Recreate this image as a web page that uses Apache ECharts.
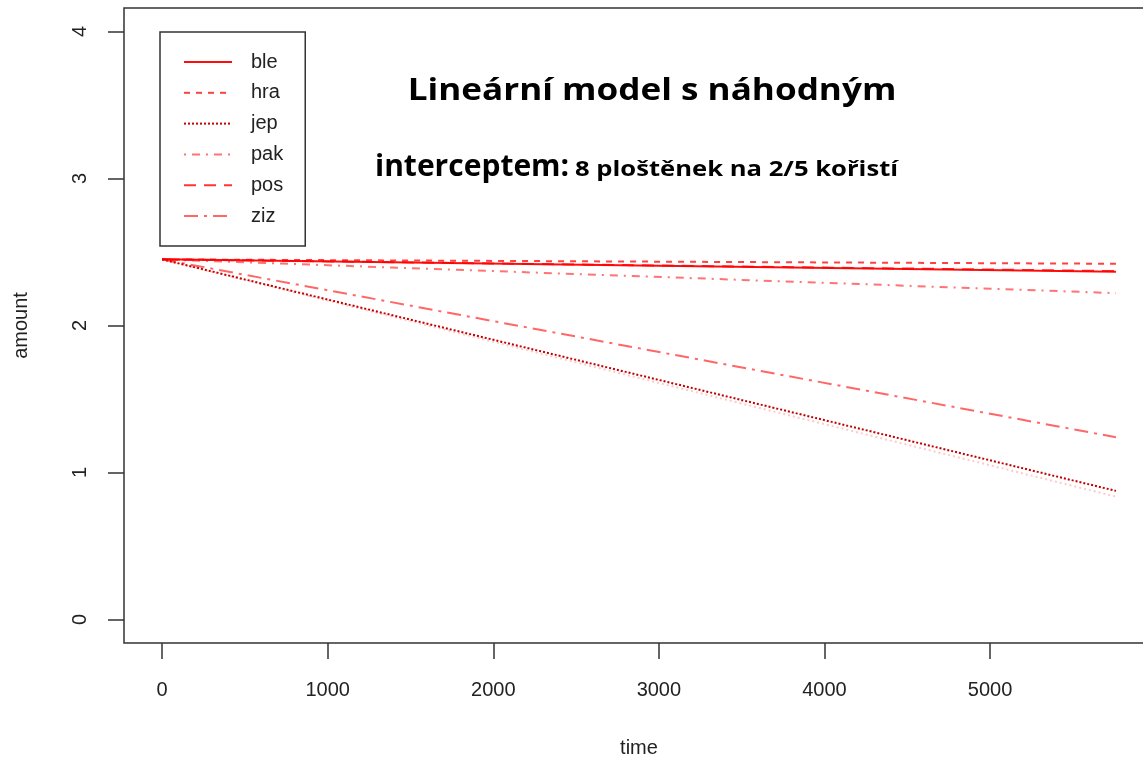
<!DOCTYPE html>
<html>
<head>
<meta charset="utf-8">
<script src="https://cdn.jsdelivr.net/npm/echarts@6/dist/echarts.min.js"></script>
<style>
  html, body { margin: 0; padding: 0; background: #fff; }
  #chart { width: 1143px; height: 762px; }
</style>
</head>
<body>
<div id="chart"></div>
<script>
// data: every line starts at time 0 with the same intercept
var groups = ["ble", "hra", "jep", "pak", "pos", "ziz"];
var timeStart = 0;
var timeEnd = 5760;
var intercept = 2.45;
var endValues = [2.365, 2.42, 0.875, 2.22, 2.37, 1.24];
// faint extra line (no legend entry)
var extraEnd = 0.836;
var xTicks = [0, 1000, 2000, 3000, 4000, 5000];
var yTicks = [0, 1, 2, 3, 4];

var styles = {
    ble: { color: "rgba(255,0,0,0.95)", type: "solid" },
    hra: { color: "rgba(255,0,0,0.75)", type: [6, 6] },
    jep: { color: "#c00000", type: [2, 2] },
    pak: { color: "rgba(255,0,0,0.55)", type: [2, 6, 8, 6] },
    pos: { color: "rgba(255,0,0,0.8)", type: [12, 8] },
    ziz: { color: "rgba(255,0,0,0.6)", type: [14, 6, 3, 6] }
};

var chart = echarts.init(document.getElementById("chart"));

var series = groups.map(function(g, i) {
    return {
        name: g,
        type: "line",
        symbol: "none",
        silent: true,
        animation: false,
        lineStyle: { width: 2, color: styles[g].color, type: styles[g].type },
        itemStyle: { color: styles[g].color },
        data: [[timeStart, intercept], [timeEnd, endValues[i]]]
    };
});
series.push({
    name: "extra",
    type: "line",
    symbol: "none",
    silent: true,
    animation: false,
    lineStyle: { width: 2, color: "rgba(255,0,0,0.22)", type: [2, 3] },
    data: [[timeStart, intercept], [timeEnd, extraEnd]]
});

var txt = "#222";
var options = {
    backgroundColor: "#fff",
    animation: false,
    grid: {
        left: 124, top: 8, width: 1030, height: 635,
        outerBoundsMode: "none", containLabel: false,
        show: true, borderColor: "#333", borderWidth: 1.5, backgroundColor: "transparent"
    },
    legend: {
        data: groups,
        orient: "vertical",
        left: 160, top: 32,
        padding: [20, 22, 20, 23],
        itemWidth: 48, itemHeight: 20, itemGap: 10.8,
        borderColor: "#333", borderWidth: 1.5,
        itemStyle: { opacity: 0 },
        textStyle: { fontFamily: "Liberation Sans", fontSize: 20, color: txt, padding: [0, 0, 0, 14] }
    },
    xAxis: {
        type: "value",
        min: -230, max: 5990,
        name: "time", nameLocation: "middle", nameGap: 95,
        nameTextStyle: { fontFamily: "Liberation Sans", fontSize: 20, color: txt },
        axisLine: { show: false, onZero: false },
        axisTick: { show: true, length: 16, customValues: xTicks, lineStyle: { color: "#333", width: 1.5 } },
        axisLabel: {
            customValues: xTicks, margin: 37, fontFamily: "Liberation Sans", fontSize: 20, color: txt,
            formatter: function(v) { return String(v); }
        },
        splitLine: { show: false }
    },
    yAxis: {
        type: "value",
        min: -0.16, max: 4.16,
        name: "amount", nameLocation: "middle", nameGap: 93,
        nameTextStyle: { fontFamily: "Liberation Sans", fontSize: 20, color: txt },
        axisLine: { show: false, onZero: false },
        axisTick: { show: true, length: 16, customValues: yTicks, lineStyle: { color: "#333", width: 1.5 } },
        axisLabel: { customValues: yTicks, rotate: 90, margin: 34, fontFamily: "Liberation Sans", fontSize: 20, color: txt },
        splitLine: { show: false }
    },
    graphic: [
        {
            type: "text", x: 652, y: 91, scaleX: 1.17,
            style: {
                text: "Lineární model s náhodným",
                font: "bold 30px 'Open Sans'",
                fill: "#000", textAlign: "center", textVerticalAlign: "middle"
            }
        },
        {
            type: "text", x: 375, y: 182,
            style: {
                text: "interceptem:",
                font: "bold 30px 'Open Sans'",
                fill: "#000", textAlign: "left", textVerticalAlign: "bottom"
            }
        },
        {
            type: "text", x: 575, y: 181, scaleX: 1.22,
            style: {
                text: "8 ploštěnek na 2/5 kořistí",
                font: "bold 21px 'Open Sans'",
                fill: "#000", textAlign: "left", textVerticalAlign: "bottom"
            }
        }
    ],
    series: series
};
chart.setOption(options);
</script>
</body>
</html>
